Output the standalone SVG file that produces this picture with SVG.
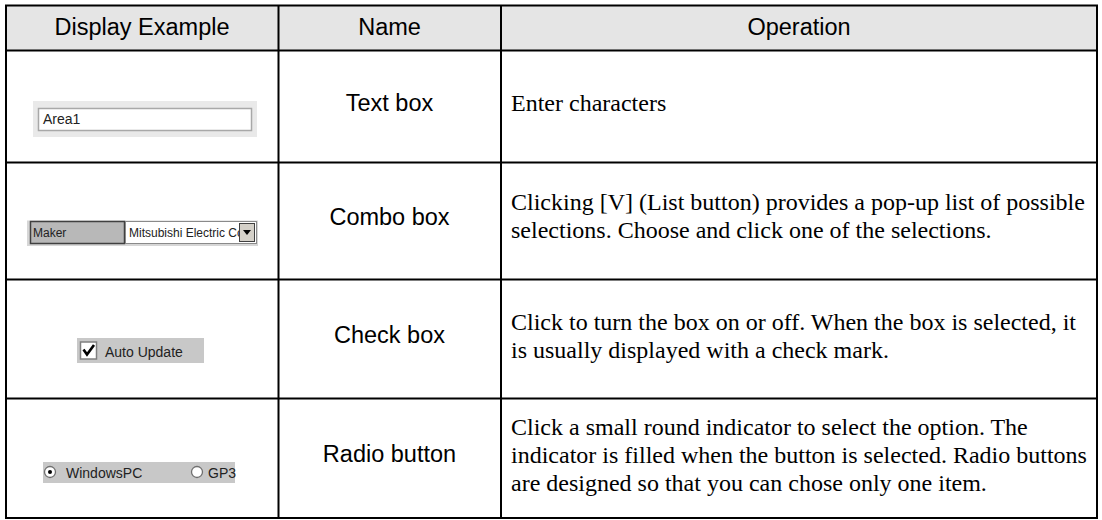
<svg xmlns="http://www.w3.org/2000/svg" width="1102" height="520" viewBox="0 0 1102 520">
<style>
.hd{font-family:"Liberation Sans",Arial,sans-serif;font-size:23.5px;fill:#000;text-anchor:middle}
.nm{font-family:"Liberation Sans",Arial,sans-serif;font-size:23.5px;fill:#000;text-anchor:middle}
.op{font-family:"Liberation Serif","Times New Roman",serif;font-size:24px;fill:#000}
.w{font-family:"Liberation Sans",Arial,sans-serif;font-size:14px;fill:#222}
.ws{font-family:"Liberation Sans",Arial,sans-serif;font-size:12px;fill:#222}
.ln{stroke:#000;stroke-width:2;fill:none}
</style>
<defs>
<clipPath id="cbclip"><rect x="126" y="222" width="113" height="21"/></clipPath>
</defs>
<rect width="1102" height="520" fill="#fff"/>
<g id="header">
<rect x="6" y="5.5" width="1091" height="45" fill="#e5e5e5"/>
<text class="hd" x="142" y="35">Display Example</text>
<text class="hd" x="389.5" y="35">Name</text>
<text class="hd" x="799" y="35">Operation</text>
</g>
<g id="row-textbox">
<rect x="33" y="101" width="224" height="36" fill="#e9e9e9"/>
<rect x="38.5" y="108.5" width="213" height="22" fill="#fff" stroke="#a8a8a8" stroke-width="1.5"/>
<text class="w" x="43" y="124">Area1</text>
<text class="nm" x="389.5" y="111">Text box</text>
<text class="op" x="511" y="111">Enter characters</text>
</g>
<g id="row-combobox">
<rect x="27" y="220.5" width="231" height="25.5" fill="#d6d6d6"/>
<rect x="30.5" y="221.5" width="94" height="22" fill="#b8b8b8" stroke="#404040" stroke-width="1.5"/>
<text class="ws" x="33" y="237">Maker</text>
<rect x="125.5" y="221.5" width="131" height="22" fill="#fff" stroke="#8a8a8a" stroke-width="1"/>
<text class="ws" x="129" y="237" clip-path="url(#cbclip)">Mitsubishi Electric Co</text>
<rect x="239.5" y="223.5" width="15" height="18" fill="#d4d0c8" stroke="#404040" stroke-width="1"/>
<path d="M243,230 L251,230 L247,235 Z" fill="#000"/>
<text class="nm" x="389.5" y="225">Combo box</text>
<text class="op" x="511" y="210">Clicking [V] (List button) provides a pop-up list of possible</text>
<text class="op" x="511" y="238">selections. Choose and click one of the selections.</text>
</g>
<g id="row-checkbox">
<rect x="77" y="338" width="127" height="25" fill="#c8c8c8"/>
<rect x="80.5" y="342" width="16" height="17" fill="#fff" stroke="#808080" stroke-width="1.5"/>
<path d="M83.5,349.5 L87,354.5 L94,345" fill="none" stroke="#000" stroke-width="2.6"/>
<text class="w" x="105" y="357">Auto Update</text>
<text class="nm" x="389.5" y="343">Check box</text>
<text class="op" x="511" y="329.5">Click to turn the box on or off. When the box is selected, it</text>
<text class="op" x="511" y="357.5">is usually displayed with a check mark.</text>
</g>
<g id="row-radio">
<rect x="43" y="462" width="192" height="21" fill="#c8c8c8"/>
<circle cx="50" cy="472" r="5.5" fill="#fff" stroke="#707070" stroke-width="1.3"/>
<circle cx="50" cy="472" r="2" fill="#000"/>
<text class="w" x="66" y="478">WindowsPC</text>
<circle cx="197" cy="472" r="5.5" fill="#fff" stroke="#707070" stroke-width="1.3"/>
<text class="w" x="208" y="478">GP3</text>
<text class="nm" x="389.5" y="462">Radio button</text>
<text class="op" x="511" y="434.5">Click a small round indicator to select the option. The</text>
<text class="op" x="511" y="462.5">indicator is filled when the button is selected. Radio buttons</text>
<text class="op" x="511" y="490.5">are designed so that you can chose only one item.</text>
</g>
<g id="connectors">
<rect class="ln" x="6" y="5.5" width="1091" height="512.5"/>
<line class="ln" x1="278.5" y1="5.5" x2="278.5" y2="518"/>
<line class="ln" x1="501" y1="5.5" x2="501" y2="518"/>
<line class="ln" x1="6" y1="50.5" x2="1097" y2="50.5"/>
<line class="ln" x1="6" y1="162.5" x2="1097" y2="162.5"/>
<line class="ln" x1="6" y1="279.5" x2="1097" y2="279.5"/>
<line class="ln" x1="6" y1="398.5" x2="1097" y2="398.5"/>
</g>
</svg>
